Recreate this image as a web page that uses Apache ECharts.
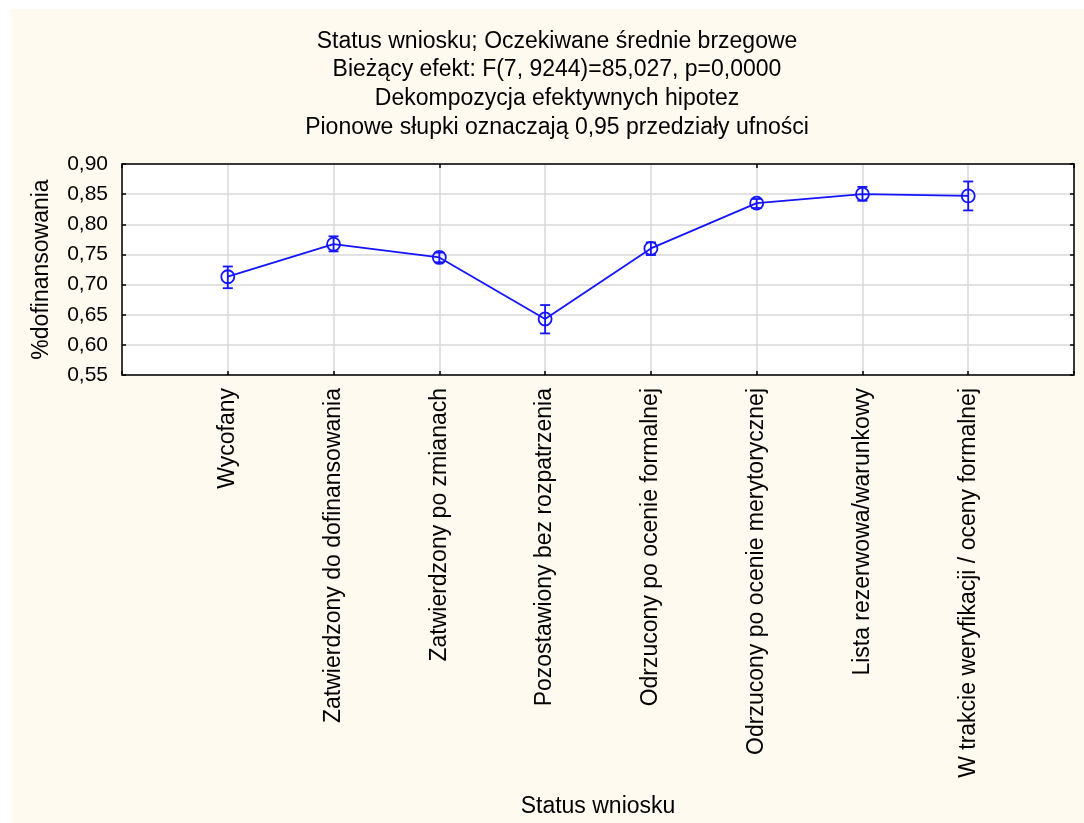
<!DOCTYPE html>
<html>
<head>
<meta charset="utf-8">
<script src="https://cdn.jsdelivr.net/npm/echarts@6/dist/echarts.min.js"></script>
<style>
  html, body { margin: 0; padding: 0; background: #fff; }
  #paper { position: absolute; left: 11px; top: 9px; width: 1073px; height: 814px; background: #fffaf0; }
  #chart { position: absolute; left: 0; top: 0; width: 1084px; height: 823px; }
</style>
</head>
<body>
<div id="paper"></div>
<div id="chart"></div>
<script>
// status wniosku - kategorie
var categories = ['Wycofany', 'Zatwierdzony do dofinansowania', 'Zatwierdzony po zmianach',
  'Pozostawiony bez rozpatrzenia', 'Odrzucony po ocenie formalnej', 'Odrzucony po ocenie merytorycznej',
  'Lista rezerwowa/warunkowy', 'W trakcie weryfikacji / oceny formalnej']
// srednie brzegowe
var means = [0.713, 0.767, 0.745, 0.643, 0.760, 0.835, 0.850, 0.847]
// przedzialy ufnosci 0,95
var lower = [0.694, 0.755, 0.737, 0.619, 0.749, 0.827, 0.839, 0.823]
var upper = [0.730, 0.780, 0.753, 0.666, 0.770, 0.842, 0.862, 0.871]
var yTicks = [0.55, 0.60, 0.65, 0.70, 0.75, 0.80, 0.85, 0.90]

var titleLines = ['Status wniosku; Oczekiwane średnie brzegowe',
  'Bieżący efekt: F(7, 9244)=85,027, p=0,0000',
  'Dekompozycja efektywnych hipotez',
  'Pionowe słupki oznaczają 0,95 przedziały ufności']

var FONT = '"Liberation Sans", Arial, sans-serif'
var BLUE = '#1414ff'

// puste miejsca na brzegach osi
var axisCats = [''].concat(categories, [''])
var lineData = [null].concat(means, [null])
var barData = categories.map(function (c, i) { return [i + 1, lower[i], upper[i]] })

var chart = echarts.init(document.getElementById('chart'))
var fmt = function (v) { return v.toFixed(2).replace('.', ',') }

var option = {
  backgroundColor: 'transparent',
  animation: false,
  textStyle: { fontFamily: FONT },
  graphic: [{
    type: 'text',
    x: 557, y: 27,
    style: {
      text: titleLines.join('\n'),
      font: '23px ' + FONT,
      lineHeight: 28.7,
      fill: '#000',
      align: 'center',
      verticalAlign: 'top'
    }
  }],
  grid: { left: 122, right: 10, top: 164, bottom: 448, show: true, backgroundColor: '#fff', borderWidth: 0 },
  xAxis: [{
    type: 'category',
    data: axisCats,
    boundaryGap: false,
    name: 'Status wniosku',
    nameLocation: 'middle',
    nameGap: 420,
    nameTextStyle: { fontSize: 23, color: '#000', fontFamily: FONT },
    axisLine: { lineStyle: { color: '#000', width: 1.5 } },
    axisTick: { inside: true, length: 4, lineStyle: { color: '#000', width: 1.5 } },
    axisLabel: { rotate: 90, margin: 13, fontSize: 23, color: '#000', interval: 0, fontFamily: FONT },
    splitLine: { show: true, lineStyle: { color: '#d9d9d9', width: 1.5 } }
  }, {
    type: 'category',
    data: axisCats,
    boundaryGap: false,
    position: 'top',
    axisLine: { lineStyle: { color: '#000', width: 1.5 } },
    axisTick: { inside: true, length: 4, lineStyle: { color: '#000', width: 1.5 } },
    axisLabel: { show: false },
    splitLine: { show: false }
  }],
  yAxis: [{
    type: 'value',
    min: yTicks[0],
    max: yTicks[yTicks.length - 1],
    interval: 0.05,
    name: '%dofinansowania',
    nameLocation: 'middle',
    nameGap: 69,
    nameTextStyle: { fontSize: 23, color: '#000', fontFamily: FONT },
    axisLine: { show: true, lineStyle: { color: '#000', width: 1.5 } },
    axisTick: { show: true, inside: true, length: 4, lineStyle: { color: '#000', width: 1.5 } },
    axisLabel: { margin: 14, fontSize: 21, color: '#000', formatter: fmt, fontFamily: FONT },
    splitLine: { show: true, lineStyle: { color: '#d9d9d9', width: 1.5 } }
  }, {
    type: 'value',
    position: 'right',
    min: yTicks[0],
    max: yTicks[yTicks.length - 1],
    interval: 0.05,
    axisLine: { show: true, lineStyle: { color: '#000', width: 1.5 } },
    axisTick: { show: true, inside: true, length: 4, lineStyle: { color: '#000', width: 1.5 } },
    axisLabel: { show: false },
    splitLine: { show: false }
  }],
  series: [{
    type: 'line',
    data: lineData,
    symbol: 'circle',
    symbolSize: 13,
    showSymbol: true,
    lineStyle: { color: BLUE, width: 1.8 },
    itemStyle: { color: 'transparent', borderColor: BLUE, borderWidth: 1.8 },
    z: 3
  }, {
    type: 'custom',
    data: barData,
    z: 4,
    renderItem: function (params, api) {
      var idx = api.value(0)
      var lo = api.coord([idx, api.value(1)])
      var hi = api.coord([idx, api.value(2)])
      var w = 5
      var st = { stroke: BLUE, lineWidth: 1.8, fill: null }
      return {
        type: 'group',
        children: [
          { type: 'line', shape: { x1: lo[0], y1: lo[1], x2: hi[0], y2: hi[1] }, style: st },
          { type: 'line', shape: { x1: lo[0] - w, y1: lo[1], x2: lo[0] + w, y2: lo[1] }, style: st },
          { type: 'line', shape: { x1: hi[0] - w, y1: hi[1], x2: hi[0] + w, y2: hi[1] }, style: st }
        ]
      }
    }
  }]
}
chart.setOption(option)
</script>
</body>
</html>
